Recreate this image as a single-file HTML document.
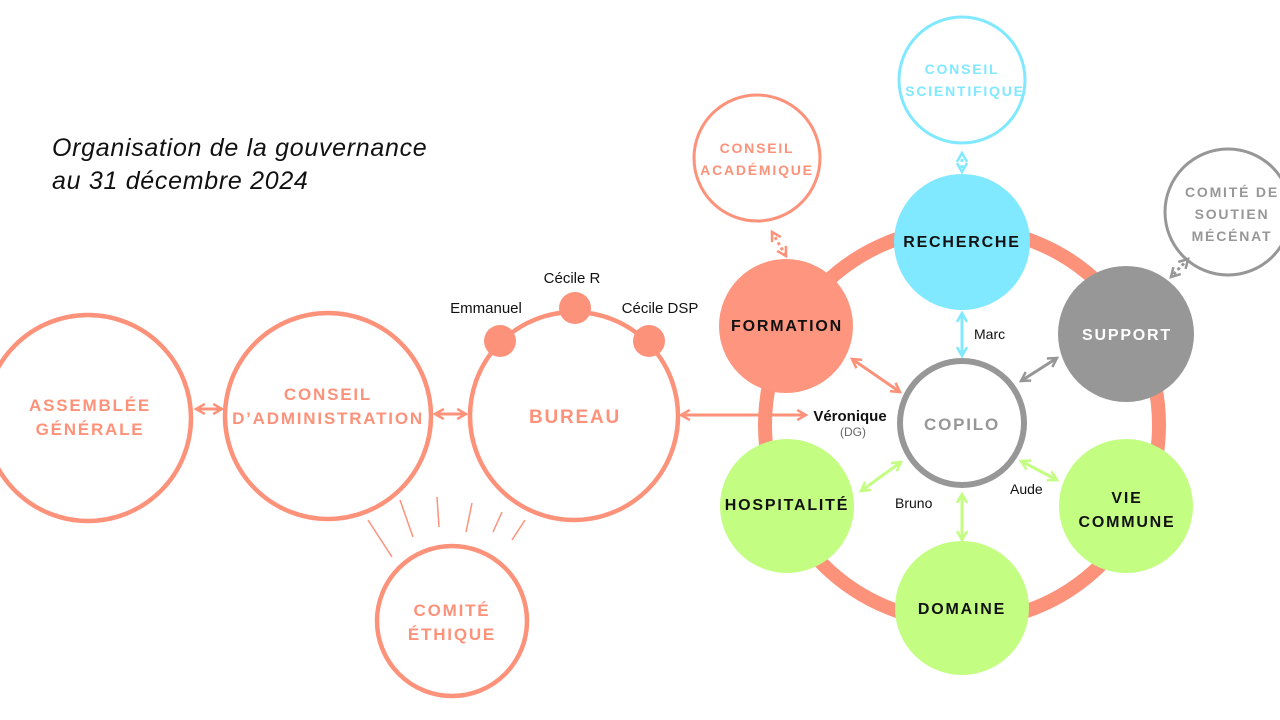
<!DOCTYPE html>
<html><head><meta charset="utf-8"><style>
body{margin:0;background:#fff}
svg{display:block}
text{font-family:"Liberation Sans",sans-serif}
.t{font-weight:bold;letter-spacing:1.8px;text-anchor:middle}
</style></head><body>
<svg width="1280" height="720" viewBox="0 0 1280 720" xmlns="http://www.w3.org/2000/svg">
<defs>
<marker id="as" viewBox="0 0 10 10" refX="8" refY="5" markerWidth="4.2" markerHeight="4.2" orient="auto-start-reverse"><path d="M1 1L8 5L1 9" fill="none" stroke="#fd927b" stroke-width="2"/></marker>
<marker id="ac" viewBox="0 0 10 10" refX="8" refY="5" markerWidth="4.2" markerHeight="4.2" orient="auto-start-reverse"><path d="M1 1L8 5L1 9" fill="none" stroke="#80e8ff" stroke-width="2"/></marker>
<marker id="ag" viewBox="0 0 10 10" refX="8" refY="5" markerWidth="4.2" markerHeight="4.2" orient="auto-start-reverse"><path d="M1 1L8 5L1 9" fill="none" stroke="#979797" stroke-width="2"/></marker>
<marker id="al" viewBox="0 0 10 10" refX="8" refY="5" markerWidth="4.2" markerHeight="4.2" orient="auto-start-reverse"><path d="M1 1L8 5L1 9" fill="none" stroke="#c3fd82" stroke-width="2"/></marker>
</defs>
<text x="52" y="156" font-size="25" letter-spacing="0.7" font-style="italic" fill="#111">Organisation de la gouvernance</text>
<text x="52" y="189" font-size="25" letter-spacing="0.7" font-style="italic" fill="#111">au 31 décembre 2024</text>

<g fill="none" stroke="#fd927b" stroke-width="4.5">
<circle cx="88" cy="418" r="103"/>
<circle cx="328" cy="416" r="103"/>
<circle cx="574" cy="416" r="104"/>
<circle cx="452" cy="621" r="75"/>
</g>
<g stroke="#fd927b" stroke-width="1.5">
<line x1="368" y1="520" x2="392" y2="557"/><line x1="400" y1="500" x2="413" y2="537"/>
<line x1="437" y1="497" x2="439" y2="527"/><line x1="472" y1="503" x2="466" y2="532"/>
<line x1="502" y1="512" x2="493" y2="532"/><line x1="525" y1="520" x2="512" y2="540"/>
</g>
<g fill="#fd927b"><circle cx="575" cy="308" r="16"/><circle cx="500" cy="341" r="16"/><circle cx="649" cy="341" r="16"/></g>
<g font-size="15" fill="#111" text-anchor="middle">
<text x="572" y="283">Cécile R</text><text x="486" y="313">Emmanuel</text><text x="660" y="313">Cécile DSP</text>
</g>
<g stroke="#fd927b" stroke-width="3" fill="none">
<line x1="196" y1="409" x2="222" y2="409" marker-start="url(#as)" marker-end="url(#as)"/>
<line x1="435" y1="414" x2="466" y2="414" marker-start="url(#as)" marker-end="url(#as)"/>
<line x1="681" y1="415" x2="806" y2="415" marker-start="url(#as)" marker-end="url(#as)"/>
<line x1="852" y1="359" x2="900" y2="392" marker-start="url(#as)" marker-end="url(#as)"/>
<line x1="772" y1="232" x2="786" y2="256" stroke-dasharray="3 3" marker-start="url(#as)" marker-end="url(#as)"/>
</g>
<g class="t" fill="#fd927b" font-size="17">
<text x="90" y="411">ASSEMBLÉE</text><text x="90" y="435">GÉNÉRALE</text>
<text x="328" y="400">CONSEIL</text><text x="328" y="424">D’ADMINISTRATION</text>
<text x="575" y="423" font-size="19">BUREAU</text>
<text x="452" y="616">COMITÉ</text><text x="452" y="640">ÉTHIQUE</text>
</g>

<circle cx="962" cy="425" r="197" fill="none" stroke="#fd927b" stroke-width="14"/>
<circle cx="757" cy="158" r="63" fill="#fff" stroke="#fd927b" stroke-width="3"/>
<circle cx="962" cy="80" r="63" fill="#fff" stroke="#80e8ff" stroke-width="3"/>
<circle cx="1228" cy="212" r="63" fill="#fff" stroke="#979797" stroke-width="3"/>
<g class="t" font-size="14">
<text x="757" y="153" fill="#fd927b">CONSEIL</text><text x="757" y="175" fill="#fd927b">ACADÉMIQUE</text>
<text x="962" y="74" fill="#80e8ff">CONSEIL</text><text x="965" y="96" fill="#80e8ff">SCIENTIFIQUE</text>
<text x="1232" y="197" fill="#979797">COMITÉ DE</text><text x="1232" y="219" fill="#979797">SOUTIEN</text><text x="1232" y="241" fill="#979797">MÉCÉNAT</text>
</g>
<circle cx="962" cy="242" r="68" fill="#80e8ff"/>
<circle cx="786" cy="326" r="67" fill="#fe957f"/>
<circle cx="1126" cy="334" r="68" fill="#979797"/>
<circle cx="787" cy="506" r="67" fill="#c3fd82"/>
<circle cx="1126" cy="506" r="67" fill="#c3fd82"/>
<circle cx="962" cy="608" r="67" fill="#c3fd82"/>
<circle cx="962" cy="423" r="62" fill="#fff" stroke="#979797" stroke-width="6"/>

<line x1="962" y1="153" x2="962" y2="172" stroke="#80e8ff" stroke-width="3" stroke-dasharray="3 3" marker-start="url(#ac)" marker-end="url(#ac)"/>
<line x1="1188" y1="259" x2="1171" y2="277" stroke="#979797" stroke-width="3" stroke-dasharray="3 3" marker-start="url(#ag)" marker-end="url(#ag)"/>
<line x1="962" y1="313" x2="962" y2="356" stroke="#80e8ff" stroke-width="3" marker-start="url(#ac)" marker-end="url(#ac)"/>
<line x1="1057" y1="358" x2="1021" y2="381" stroke="#979797" stroke-width="3" marker-start="url(#ag)" marker-end="url(#ag)"/>
<line x1="861" y1="491" x2="901" y2="462" stroke="#c3fd82" stroke-width="3" marker-start="url(#al)" marker-end="url(#al)"/>
<line x1="1021" y1="461" x2="1057" y2="480" stroke="#c3fd82" stroke-width="3" marker-start="url(#al)" marker-end="url(#al)"/>
<line x1="962" y1="494" x2="962" y2="540" stroke="#c3fd82" stroke-width="3" marker-start="url(#al)" marker-end="url(#al)"/>

<g class="t" font-size="16" fill="#111">
<text x="962" y="247">RECHERCHE</text>
<text x="787" y="331">FORMATION</text>
<text x="1127" y="340" fill="#fff">SUPPORT</text>
<text x="787" y="510">HOSPITALITÉ</text>
<text x="1127" y="503">VIE</text><text x="1127" y="527">COMMUNE</text>
<text x="962" y="614">DOMAINE</text>
<text x="962" y="430" fill="#979797" font-size="17">COPILO</text>
</g>
<g font-size="14" fill="#111">
<text x="974" y="339">Marc</text><text x="895" y="508">Bruno</text><text x="1010" y="494">Aude</text>
<text x="850" y="421" font-weight="bold" font-size="15" text-anchor="middle">Véronique</text>
<text x="853" y="436" fill="#666" font-size="12" text-anchor="middle">(DG)</text>
</g>
</svg>
</body></html>
